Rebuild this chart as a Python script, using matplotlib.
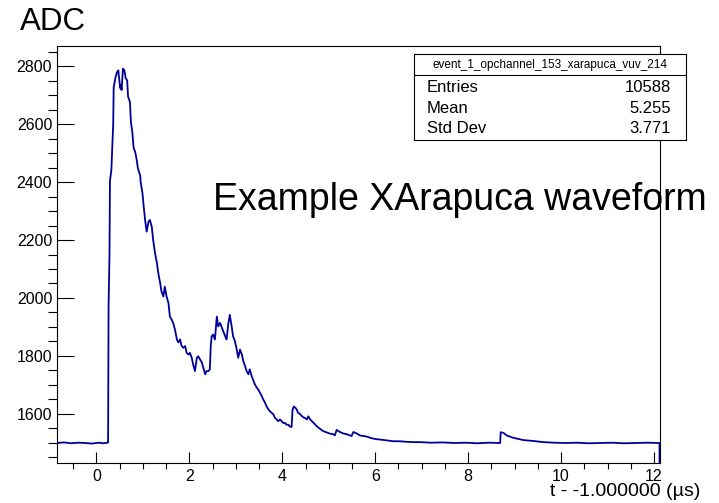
import matplotlib.pyplot as plt
import numpy as np
from matplotlib.ticker import MultipleLocator

plt.rcParams['font.family'] = ['Liberation Sans', 'DejaVu Sans']

# waveform, split into pieces (t in us, ADC counts)
t_pre = [-0.85, -0.70, -0.55, -0.40, -0.25, -0.10, 0.05, 0.15, 0.24]
adc_pre = [1500, 1502, 1499, 1501, 1500, 1498, 1501, 1499, 1501]

t_main = [0.25, 0.26, 0.28, 0.29, 0.32, 0.34, 0.36, 0.37, 0.39,
          0.41, 0.44, 0.47, 0.48, 0.51, 0.53, 0.54, 0.57, 0.60, 0.63,
          0.66, 0.68, 0.72, 0.74, 0.77, 0.80, 0.83, 0.86, 0.89, 0.92,
          0.94, 0.95, 0.99, 1.02, 1.05, 1.08, 1.12, 1.15, 1.19, 1.22,
          1.26, 1.30, 1.33, 1.37, 1.40, 1.44, 1.47, 1.51, 1.55, 1.58,
          1.62, 1.65, 1.69, 1.73, 1.76, 1.80, 1.83, 1.87, 1.91, 1.94,
          1.98, 2.01, 2.05, 2.08, 2.12, 2.16, 2.19, 2.23, 2.27, 2.30,
          2.34, 2.37, 2.41, 2.44]
adc_main = [1502, 1970, 2150, 2405, 2440, 2520, 2600, 2725, 2744,
            2761, 2778, 2785, 2768, 2724, 2734, 2717, 2791, 2785, 2757,
            2751, 2694, 2677, 2608, 2574, 2517, 2505, 2482, 2449, 2432,
            2424, 2401, 2361, 2310, 2264, 2229, 2263, 2269, 2246, 2200,
            2155, 2121, 2086, 2052, 2022, 2005, 2039, 2005, 1982, 1936,
            1925, 1914, 1891, 1857, 1847, 1857, 1836, 1828, 1834, 1811,
            1805, 1811, 1794, 1771, 1748, 1794, 1799, 1788, 1777, 1759,
            1737, 1748, 1748, 1754]

t_bump = [2.46, 2.48, 2.51, 2.55, 2.59, 2.62, 2.66, 2.70, 2.73, 2.77,
          2.80, 2.84, 2.87, 2.91, 2.94, 2.98, 3.02, 3.05, 3.09, 3.13,
          3.16, 3.20, 3.23, 3.27, 3.30]
adc_bump = [1834, 1868, 1874, 1857, 1936, 1902, 1914, 1897, 1885, 1868,
            1857, 1914, 1942, 1902, 1868, 1851, 1822, 1794, 1822, 1805,
            1782, 1765, 1748, 1737, 1754]

t_decay = [3.34, 3.38, 3.41, 3.45, 3.48, 3.52, 3.56, 3.59, 3.63, 3.66,
           3.70, 3.73, 3.77, 3.81, 3.84, 3.88, 3.91, 3.95, 3.99, 4.02,
           4.06, 4.09, 4.13, 4.16, 4.20]
adc_decay = [1731, 1714, 1702, 1691, 1685, 1673, 1661, 1650, 1638, 1627,
             1616, 1610, 1604, 1598, 1587, 1581, 1575, 1581, 1575, 1569,
             1569, 1563, 1563, 1557, 1555]

t_tail = [4.22, 4.25, 4.29, 4.31, 4.34, 4.38, 4.42, 4.45, 4.49, 4.53,
          4.56, 4.60, 4.67, 4.74, 4.81, 4.88, 4.96, 5.03, 5.10, 5.13,
          5.17, 5.24, 5.31, 5.39, 5.46, 5.49, 5.53, 5.60, 5.67, 5.74,
          5.82, 5.89, 5.96, 6.03, 6.10, 6.25, 6.39, 6.53, 6.68, 6.82,
          6.96, 7.20, 7.45, 7.70, 7.95, 8.20, 8.45, 8.69]
adc_tail = [1615, 1626, 1620, 1615, 1604, 1600, 1593, 1589, 1586, 1581,
            1592, 1581, 1570, 1558, 1549, 1541, 1536, 1532, 1530, 1526,
            1545, 1538, 1533, 1530, 1526, 1524, 1538, 1533, 1526, 1524,
            1522, 1518, 1515, 1513, 1512, 1509, 1506, 1506, 1504, 1503,
            1503, 1501, 1502, 1500, 1501, 1499, 1501, 1500]

t_late = [8.70, 8.76, 8.83, 8.97, 9.19, 9.40, 9.62, 9.85, 10.10, 10.35,
          10.60, 10.85, 11.10, 11.35, 11.60, 11.85, 12.12, 12.12]
adc_late = [1537, 1535, 1526, 1518, 1510, 1507, 1503, 1501, 1500, 1501,
            1499, 1500, 1501, 1499, 1500, 1501, 1500, 0]

t = np.concatenate([t_pre, t_main, t_bump, t_decay, t_tail, t_late])
adc = np.concatenate([adc_pre, adc_main, adc_bump, adc_decay, adc_tail, adc_late])

stats_title = 'event_1_opchannel_153_xarapuca_vuv_214'
stats_names = ['Entries', 'Mean', 'Std Dev']
stats_values = ['10588', '5.255', '3.771']

fig = plt.figure(figsize=(7.19, 5.03), dpi=100)
ax = fig.add_axes([57 / 719, 40 / 503, 603 / 719, 417 / 503])

ax.plot(t, adc, color='#000099', lw=1.3)

ax.set_xlim(-0.85, 12.13)
ax.set_ylim(1431, 2869)
ax.xaxis.set_major_locator(MultipleLocator(2))
ax.xaxis.set_minor_locator(MultipleLocator(0.5))
ax.yaxis.set_major_locator(MultipleLocator(200))
ax.yaxis.set_minor_locator(MultipleLocator(50))
ax.tick_params(axis='both', direction='in', labelsize=11.5, width=0.8)
ax.tick_params(axis='y', which='major', length=12, pad=3.5)
ax.tick_params(axis='y', which='minor', length=6.5, width=0.8)
ax.tick_params(axis='x', which='major', length=8, pad=4)
ax.tick_params(axis='x', which='minor', length=4, width=0.8)
for s in ax.spines.values():
    s.set_linewidth(0.8)

# axis title sits right-aligned under the frame, past its right edge
fig.text(700 / 719, 1 - 492 / 503, 't - -1.000000 (\u00b5s)', fontsize=14,
         ha='right', va='center')

# titles
fig.text(20 / 719, 1 - 22 / 503, 'ADC', fontsize=22.5, va='center')
fig.text(213 / 719, 1 - 200 / 503, 'Example XArapuca waveform', fontsize=27, va='center')

# stats box
sb = fig.add_axes([414 / 719, 1 - 140 / 503, 272 / 719, 86 / 503])
sb.set_xticks([])
sb.set_yticks([])
sb.set_xlim(0, 1)
sb.set_ylim(0, 1)
for s in sb.spines.values():
    s.set_linewidth(0.8)
sb.axhline(0.756, color='black', lw=0.8)
sb.text(0.5, 0.872, stats_title, fontsize=8.5, ha='center', va='center')
for i, (n, v) in enumerate(zip(stats_names, stats_values)):
    y = [0.605, 0.372, 0.128][i]
    sb.text(0.048, y, n, fontsize=12, ha='left', va='center')
    sb.text(0.945, y, v, fontsize=12, ha='right', va='center')

fig.savefig('out.png', dpi=100)
